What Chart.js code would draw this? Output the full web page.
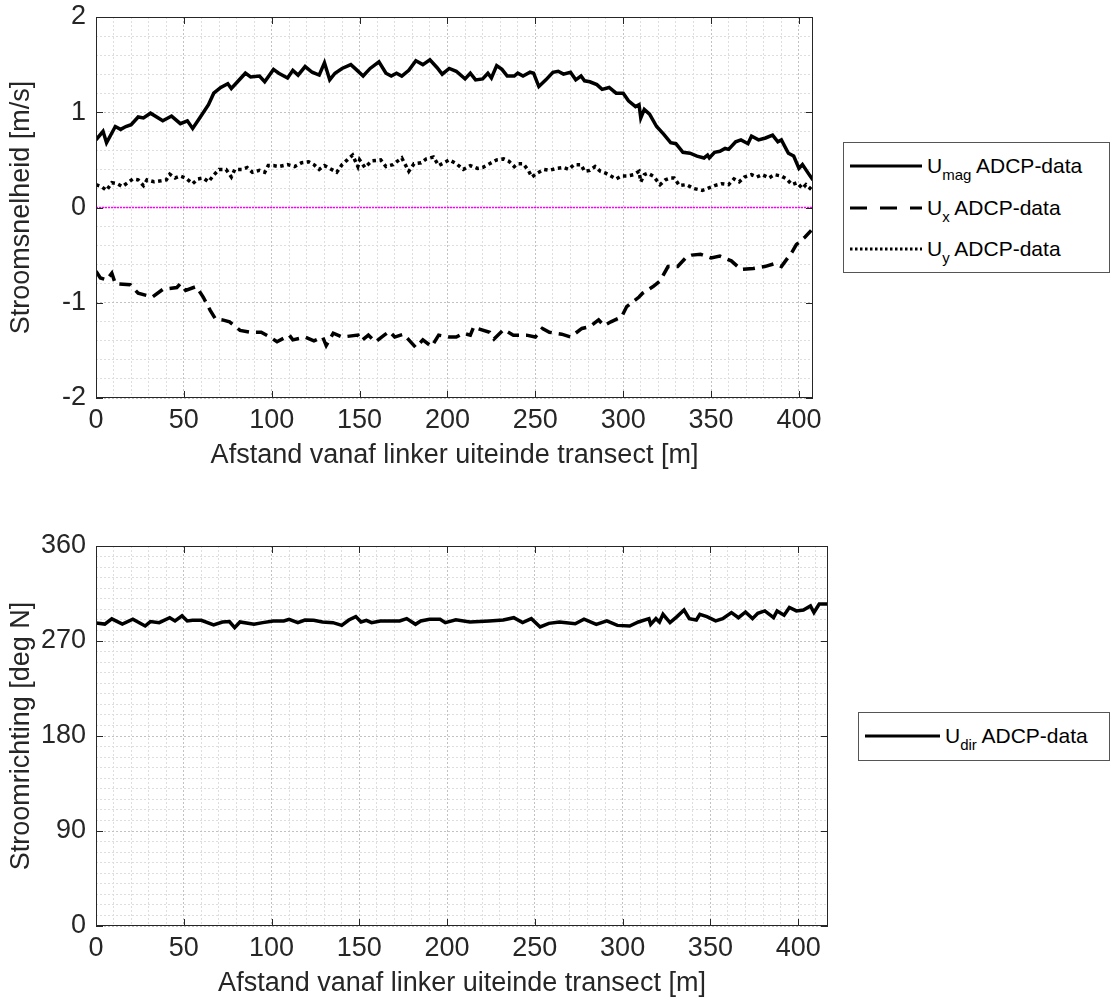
<!DOCTYPE html>
<html>
<head>
<meta charset="utf-8">
<script src="https://cdn.jsdelivr.net/npm/chart.js@4.4.1/dist/chart.umd.min.js"></script>
<style>
  body { margin: 0; background: #fff; width: 1120px; height: 1004px; position: relative; overflow: hidden;
         font-family: 'Liberation Sans', Arial, sans-serif; }
  .box { position: absolute; }
  .legend { position: absolute; border: 1px solid #555; background: #fff; color: #000; font-size: 21px; }
  .row { position: absolute; left: 6px; height: 30px; display: flex; align-items: center; white-space: nowrap; }
  .row svg { margin-right: 5px; }
  sub { font-size: 15px; vertical-align: -7px; line-height: 0; }
</style>
</head>
<body>
<div class="box" style="left:0;top:0;width:840px;height:480px"><canvas id="chartTop"></canvas></div>
<div class="box" style="left:0;top:529px;width:840px;height:475px"><canvas id="chartBottom"></canvas></div>

<div class="legend" style="left:843px;top:142px;width:265px;height:129px">
  <div class="row" style="top:8px">
    <svg width="72" height="6"><line x1="0" y1="3" x2="72" y2="3" stroke="#000" stroke-width="3"/></svg>
    <span>U<sub>mag</sub> ADCP-data</span>
  </div>
  <div class="row" style="top:50px">
    <svg width="72" height="6"><line x1="0" y1="3" x2="72" y2="3" stroke="#000" stroke-width="3" stroke-dasharray="17 13"/></svg>
    <span>U<sub>x</sub> ADCP-data</span>
  </div>
  <div class="row" style="top:91px">
    <svg width="72" height="6"><line x1="0" y1="3" x2="72" y2="3" stroke="#000" stroke-width="3" stroke-dasharray="2.5 2.5"/></svg>
    <span>U<sub>y</sub> ADCP-data</span>
  </div>
</div>

<div class="legend" style="left:858px;top:712px;width:250px;height:47px">
  <div class="row" style="top:8px">
    <svg width="75" height="6"><line x1="0" y1="3" x2="75" y2="3" stroke="#000" stroke-width="3"/></svg>
    <span>U<sub>dir</sub> ADCP-data</span>
  </div>
</div>

<script>
// afstand [m] en stroomsnelheid [m/s]
const distMag = [0, 4, 6, 11, 14, 17, 20, 24, 27, 31, 38, 43, 48, 52, 55, 59, 64, 67, 71, 75, 77, 80, 85, 88, 93, 96,
  101, 104, 109, 112, 115, 119, 123, 127, 130, 133, 136, 140, 145, 148, 152, 156, 161, 165, 168, 171, 174, 178, 182,
  186, 190, 194, 197, 201, 205, 210, 213, 216, 220, 223, 225, 228, 231, 234, 238, 240, 243, 247, 249, 252, 256, 260,
  263, 266, 270, 273, 276, 278, 281, 285, 288, 292, 296, 300, 303, 307, 309, 310, 312, 315, 319, 323, 327, 330, 334,
  338, 342, 346, 348, 349, 352, 355, 358, 360, 364, 367, 371, 373, 377, 381, 385, 388, 390, 394, 397, 400, 402, 406, 408];
const uMag = [0.71, 0.80, 0.68, 0.85, 0.82, 0.85, 0.87, 0.95, 0.94, 0.99, 0.91, 0.96, 0.88, 0.91, 0.83, 0.94, 1.08, 1.20, 1.26, 1.30, 1.25, 1.31, 1.41, 1.37, 1.38, 1.32,
  1.45, 1.41, 1.36, 1.44, 1.39, 1.48, 1.42, 1.39, 1.52, 1.34, 1.41, 1.46, 1.50, 1.45, 1.38, 1.46, 1.53, 1.41, 1.38, 1.41, 1.38, 1.44, 1.54,
  1.50, 1.55, 1.47, 1.40, 1.46, 1.43, 1.35, 1.41, 1.34, 1.35, 1.41, 1.36, 1.49, 1.45, 1.38, 1.38, 1.41, 1.38, 1.42, 1.41, 1.27, 1.34, 1.42,
  1.43, 1.40, 1.42, 1.34, 1.38, 1.33, 1.32, 1.29, 1.24, 1.26, 1.20, 1.20, 1.12, 1.06, 1.08, 0.94, 1.03, 0.98, 0.85, 0.77, 0.68, 0.67, 0.58,
  0.57, 0.54, 0.52, 0.55, 0.52, 0.58, 0.59, 0.62, 0.61, 0.69, 0.71, 0.67, 0.75, 0.71, 0.73, 0.76, 0.69, 0.71, 0.57, 0.54, 0.41, 0.45, 0.34, 0.29];

const distX = [0, 2.5, 6, 9, 11, 19.5, 24, 32, 38, 46, 48, 51, 57, 61, 65, 68, 72, 76, 82, 88, 94, 99, 103, 110, 112,
  119, 124, 129, 131, 135, 140, 149, 151, 155, 159, 164, 167, 170, 175, 178, 182, 186, 191, 195, 201, 205, 209, 213,
  215, 217, 224, 226.5, 232, 237.5, 245, 250, 254, 258, 265, 270, 276.5, 281, 286, 289, 293, 299, 302, 309, 311, 317,
  321, 325.5, 331, 336, 339, 344, 350, 355, 361.5, 367, 374, 380.5, 386, 390, 396, 398.5, 403.5, 407];
const uX = [-0.67, -0.74, -0.76, -0.69, -0.80, -0.81, -0.90, -0.94, -0.86, -0.84, -0.80, -0.87, -0.83, -0.94, -1.08, -1.17, -1.18, -1.20, -1.29, -1.31, -1.31, -1.36, -1.41, -1.34, -1.39,
  -1.36, -1.40, -1.36, -1.45, -1.32, -1.36, -1.34, -1.40, -1.34, -1.41, -1.34, -1.30, -1.36, -1.33, -1.39, -1.47, -1.39, -1.46, -1.34, -1.36, -1.36, -1.32, -1.34,
  -1.25, -1.27, -1.31, -1.38, -1.28, -1.34, -1.34, -1.36, -1.27, -1.31, -1.33, -1.36, -1.27, -1.25, -1.18, -1.24, -1.20, -1.15, -1.04, -0.94, -0.90, -0.83,
  -0.77, -0.62, -0.62, -0.52, -0.50, -0.49, -0.53, -0.51, -0.56, -0.65, -0.64, -0.62, -0.59, -0.62, -0.47, -0.39, -0.31, -0.24];

const distY = [0, 3, 6, 9, 12, 15, 18, 21, 24, 27, 29, 33, 37, 40, 42, 45, 48, 51, 55, 58, 61, 64, 67, 70, 74, 77, 79, 83, 86, 89, 93, 96, 98,
  101, 104, 109, 113, 117, 121, 124, 127, 130, 133, 137, 140, 143, 146, 149, 150, 153, 157, 162, 165, 169, 171, 174, 178, 181, 185, 188, 192, 195, 198,
  201, 205, 209, 213, 217, 220, 224, 228, 232, 235, 238, 240, 243, 246, 248, 251, 255, 258, 262, 266, 269, 272, 276, 278, 281, 284, 287, 290, 293, 296, 299,
  302, 306, 309, 310, 312, 314, 317, 318, 321, 324, 327, 329, 332, 336, 340, 345, 348, 352, 356, 360, 363, 366, 369, 373, 376, 379, 383, 386, 390, 393, 396, 399, 402, 404, 407];
const uY = [0.24, 0.22, 0.18, 0.26, 0.25, 0.22, 0.26, 0.30, 0.29, 0.23, 0.29, 0.27, 0.28, 0.29, 0.35, 0.31, 0.33, 0.31, 0.25, 0.30, 0.31, 0.27, 0.34, 0.40, 0.40, 0.32, 0.40, 0.40, 0.42, 0.37, 0.39, 0.37, 0.44,
  0.44, 0.43, 0.45, 0.43, 0.47, 0.48, 0.45, 0.40, 0.44, 0.41, 0.37, 0.45, 0.50, 0.55, 0.43, 0.50, 0.42, 0.49, 0.50, 0.43, 0.45, 0.48, 0.52, 0.38, 0.46, 0.47, 0.51, 0.53, 0.44, 0.47,
  0.50, 0.46, 0.40, 0.44, 0.41, 0.42, 0.46, 0.50, 0.51, 0.485, 0.43, 0.46, 0.46, 0.39, 0.32, 0.36, 0.40, 0.39, 0.41, 0.42, 0.40, 0.45, 0.45, 0.38, 0.39, 0.43, 0.38, 0.36, 0.33, 0.30, 0.33,
  0.33, 0.345, 0.38, 0.27, 0.345, 0.36, 0.33, 0.31, 0.24, 0.29, 0.31, 0.31, 0.23, 0.24, 0.20, 0.18, 0.20, 0.23, 0.25, 0.24, 0.30, 0.27, 0.32, 0.345, 0.32, 0.345, 0.31, 0.345, 0.33, 0.30, 0.24, 0.26, 0.20, 0.24, 0.19];

// stroomrichting [deg N]
const distDir = [0, 5, 9, 15, 21, 28, 31, 36, 42, 45, 49, 52, 55, 60, 67, 72, 76, 79, 82, 90, 95, 101, 107, 110, 115, 119, 124, 129,
  135, 140, 144, 148, 151, 154, 157, 162, 167, 173, 177, 182, 185, 190, 196, 199, 205, 213, 224, 232, 238, 243, 248, 253, 258,
  264, 273, 278, 285, 291, 297, 304, 309, 315, 316, 319, 321, 323, 327, 331, 335, 338, 342, 344, 348, 353, 357, 362, 366, 370,
  374, 377, 381, 386, 388, 392, 395, 399, 403, 407, 409, 412, 417];
const uDir = [287, 286, 291, 286, 290.6, 284.2, 288.4, 287.4, 292, 289, 293.8, 289, 289.6, 289.6, 285.2, 288, 288.4, 282.7, 288, 285.8, 287.4, 289, 289, 290.6, 287.4, 289.9, 289.6, 288,
  287.4, 284.8, 289.9, 293.1, 288, 289.6, 287.4, 289, 289, 289, 291.2, 285.8, 289, 290.6, 290.6, 287.4, 290, 288, 289, 289.9, 292.1, 287.4, 291.2, 283.3, 286.7,
  288, 286.4, 290.6, 285.8, 289, 284.8, 284.2, 288, 291.2, 285.8, 291.2, 288, 295.3, 287.4, 293.1, 299.4, 291.2, 289.9, 295.3, 293.1, 289, 291.2, 296.9, 292.1, 297.5,
  291.2, 296.3, 298.5, 292.1, 298.5, 294.4, 301.7, 298.5, 299.4, 303.2, 297, 305, 305];

const zeroDist = [0, 408];
const zeroVal = [0, 0];

const xTicksMajor = [0, 50, 100, 150, 200, 250, 300, 350, 400];

function pairs(xs, ys) {
  return xs.map((x, i) => ({ x: x, y: ys[i] }));
}

const axisFont = { family: "'Liberation Sans', Arial, sans-serif", size: 27 };
const textColor = '#262626';

function isMajorX(v) { return Math.abs(v % 50) < 1e-6; }
function isMajorSpeed(v) { return Math.abs(v - Math.round(v)) < 1e-6; }
function isMajorDir(v) { return Math.abs(v % 90) < 1e-6; }

// kader + tick streepjes naar binnen, zoals in MATLAB
const framePlugin = {
  id: 'frame',
  afterDatasetsDraw(chart, args, opts) {
    const { ctx, chartArea: a } = chart;
    const xs = chart.scales.x, ys = chart.scales.y;
    ctx.save();
    ctx.strokeStyle = textColor;
    ctx.lineWidth = 1;
    ctx.beginPath();
    xs.ticks.forEach(t => {
      if (!isMajorX(t.value)) return;
      const px = Math.round(xs.getPixelForValue(t.value)) + 0.5;
      ctx.moveTo(px, a.bottom); ctx.lineTo(px, a.bottom - 7);
      ctx.moveTo(px, a.top); ctx.lineTo(px, a.top + 7);
    });
    ys.ticks.forEach(t => {
      if (!opts.major(t.value)) return;
      const py = Math.round(ys.getPixelForValue(t.value)) + 0.5;
      ctx.moveTo(a.left, py); ctx.lineTo(a.left + 7, py);
      ctx.moveTo(a.right, py); ctx.lineTo(a.right - 7, py);
    });
    ctx.stroke();
    ctx.strokeRect(Math.round(a.left) + 0.5, Math.round(a.top) + 0.5, Math.round(a.width) - 1, Math.round(a.height) - 1);
    ctx.restore();
  }
};

function xScale(max) {
  return {
    type: 'linear', min: 0, max: max,
    ticks: {
      stepSize: 10, includeBounds: false, autoSkip: false, maxRotation: 0, padding: 6, color: textColor, font: axisFont,
      callback: v => (xTicksMajor.includes(v) ? String(v) : '')
    },
    grid: { color: c => (isMajorX(c.tick.value) ? '#c2c2c2' : '#dedede'), drawTicks: false },
    border: { display: false, dash: [2, 2] },
    title: { display: true, text: 'Afstand vanaf linker uiteinde transect [m]', color: textColor, font: axisFont, padding: 0 },
    afterFit: s => { s.height = 74; s.paddingLeft = 0; s.paddingRight = 0; }
  };
}

function yScale(min, max, step, major, title) {
  return {
    type: 'linear', min: min, max: max,
    ticks: {
      stepSize: step, includeBounds: false, autoSkip: false, padding: 10, color: textColor, font: axisFont,
      callback: v => (major(v) ? String(Math.round(v)) : '')
    },
    grid: { color: c => (major(c.tick.value) ? '#c2c2c2' : '#dedede'), drawTicks: false },
    border: { display: false, dash: [2, 2] },
    title: { display: true, text: title, color: textColor, font: axisFont, padding: { top: 5, bottom: 0 } },
    afterFit: s => { s.width = 96; s.paddingTop = 0; s.paddingBottom = 0; }
  };
}

const topChart = new Chart(document.getElementById('chartTop'), {
  type: 'line',
  data: {
    datasets: [
      { label: 'Umag ADCP-data', data: pairs(distMag, uMag), borderColor: '#000', borderWidth: 3.5, pointRadius: 0, tension: 0 },
      { label: 'Ux ADCP-data', data: pairs(distX, uX), borderColor: '#000', borderWidth: 3.5, borderDash: [12, 7], pointRadius: 0, tension: 0 },
      { label: 'Uy ADCP-data', data: pairs(distY, uY), borderColor: '#000', borderWidth: 3.5, borderDash: [3.5, 3.5], pointRadius: 0, tension: 0 },
      { label: 'nul', data: pairs(zeroDist, zeroVal), borderColor: '#ff00ff', borderWidth: 1.5, borderDash: [2, 1], pointRadius: 0 }
    ]
  },
  options: {
    responsive: true,
    maintainAspectRatio: false,
    animation: false,
    layout: { padding: { top: 17, right: 27, bottom: 8, left: 0 } },
    plugins: { legend: { display: false }, tooltip: { enabled: false }, frame: { major: isMajorSpeed } },
    scales: {
      x: xScale(408),
      y: yScale(-2, 2, 0.2, isMajorSpeed, 'Stroomsnelheid [m/s]')
    }
  },
  plugins: [framePlugin]
});

const bottomChart = new Chart(document.getElementById('chartBottom'), {
  type: 'line',
  data: {
    datasets: [
      { label: 'Udir ADCP-data', data: pairs(distDir, uDir), borderColor: '#000', borderWidth: 3.5, pointRadius: 0, tension: 0 }
    ]
  },
  options: {
    responsive: true,
    maintainAspectRatio: false,
    animation: false,
    layout: { padding: { top: 17, right: 12, bottom: 4, left: 0 } },
    plugins: { legend: { display: false }, tooltip: { enabled: false }, frame: { major: isMajorDir } },
    scales: {
      x: xScale(417),
      y: yScale(0, 360, 10, isMajorDir, 'Stroomrichting [deg N]')
    }
  },
  plugins: [framePlugin]
});
</script>
</body>
</html>
